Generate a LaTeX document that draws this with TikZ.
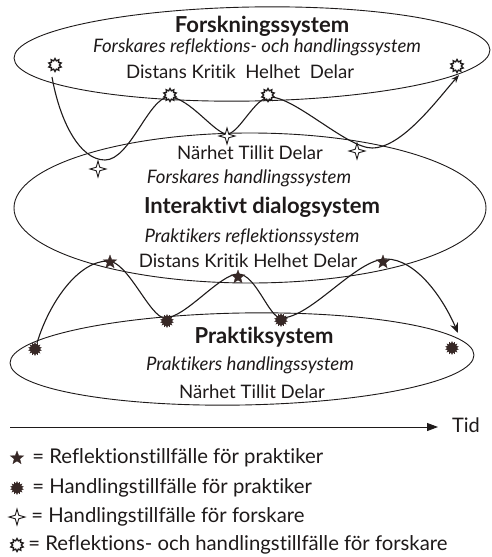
\documentclass[tikz,border=0pt]{standalone}
\usepackage{fontspec}
\setmainfont{Lato}[Ligatures=NoCommon]
\usetikzlibrary{shapes.geometric,arrows.meta}
\definecolor{ink}{RGB}{30,26,26}
\definecolor{symink}{RGB}{55,40,38}
\begin{document}
\begin{tikzpicture}[x=1pt,y=-1pt,line width=0.9pt,draw=ink,text=ink,
  sysell/.style={draw=ink,ellipse,inner sep=0pt,line width=0.9pt},
  txt/.style={inner sep=0pt,font=\fontsize{18.6}{20}\selectfont},
  itxt/.style={inner sep=0pt,font=\fontsize{18.6}{20}\selectfont\itshape},
  btxt/.style={inner sep=0pt,font=\fontsize{22}{24}\selectfont\bfseries},
  legtxt/.style={inner sep=0pt,anchor=west,font=\fontsize{20.3}{22}\selectfont},
  rstar/.style={star,star points=5,star point ratio=2.4,fill=symink,draw=symink,line width=0.3pt,minimum size=14pt,inner sep=0pt},
  pact/.style={star,star points=14,star point ratio=1.45,fill=symink,draw=symink,line width=0.3pt,minimum size=13pt,inner sep=0pt},
  fact/.style={star,star points=4,star point ratio=3.2,fill=white,draw=ink,line width=0.9pt,minimum size=16pt,inner sep=0pt},
  fref/.style={star,star points=10,star point ratio=1.5,fill=white,draw=ink,line width=1.3pt,minimum size=13pt,inner sep=0pt},
  curve/.style={line width=1.1pt,draw=ink}]
\useasboundingbox (0,0) rectangle (491,557);
\fill[white] (0,0) rectangle (491,557);
% ellipses
\node[sysell,minimum width=476pt,minimum height=94pt,rotate=1] (fs) at (252,54) {};
\node[sysell,minimum width=472pt,minimum height=150pt] (ids) at (250,208) {};
\node[sysell,minimum width=464pt,minimum height=92pt,rotate=1] (ps) at (242,359) {};
% texts top
\node[btxt] (fs1) at (262,26) {Forskningssystem};
\node[itxt] (fs2) at (257,47) {Forskares reflektions- och handlingssystem};
\node[txt] (fs3) at (240,72) {Distans Kritik\ \ Helhet\ \ Delar};
% texts middle
\node[txt] (id1) at (250,153) {Närhet Tillit Delar};
\node[itxt] (id2) at (249,178) {Forskares handlingssystem};
\node[btxt] (id3) at (262,207) {Interaktivt dialogsystem};
\node[itxt] (id4) at (252,237) {Praktikers reflektionssystem};
\node[txt] (id5) at (248,261) {Distans Kritik Helhet Delar};
% texts bottom
\node[btxt] (ps1) at (264,337) {Praktiksystem};
\node[itxt] (ps2) at (250,365) {Praktikers handlingssystem};
\node[txt] (ps3) at (252,392) {Närhet Tillit Delar};
% upper curve
\coordinate (u0) at (52,77);
\coordinate (u1) at (105,160);
\coordinate (u2) at (169,97);
\coordinate (u3) at (227,134);
\coordinate (u4) at (270,97);
\coordinate (u5) at (372,148);
\coordinate (u6) at (459,75);
\draw[curve,-{Stealth[length=8pt,width=6pt]}] (u0) .. controls +(8,45) and +(-25,0) .. (u1)
  .. controls +(25,0) and +(-20,0) .. (u2)
  .. controls +(20,0) and +(-12,0) .. (u3)
  .. controls +(12,0) and +(-15,0) .. (u4)
  .. controls +(25,0) and +(-25,0) .. (u5)
  .. controls +(30,0) and +(-22,25) .. (u6);
% lower curve
\coordinate (l0) at (37,343);
\coordinate (l1) at (108,261);
\coordinate (l2) at (165,318);
\coordinate (l3) at (238,274);
\coordinate (l4) at (281,318);
\coordinate (l5) at (386,259);
\coordinate (l6) at (458,333);
\draw[curve,-{Stealth[length=10pt,width=8pt]}] (l0) .. controls +(12,-40) and +(-30,0) .. (l1)
  .. controls +(20,0) and +(-15,0) .. (l2)
  .. controls +(20,0) and +(-18,0) .. (l3)
  .. controls +(18,0) and +(-12,0) .. (l4)
  .. controls +(30,0) and +(-30,0) .. (l5)
  .. controls +(30,0) and +(-15,-35) .. (l6);
% symbols on upper curve
\node[fref] (r1) at (55,65) {};
\node[fref] (r2) at (170,95) {};
\node[fref] (r3) at (268,95) {};
\node[fref] (r4) at (457,66) {};
\node[fact] (h1) at (98,169) {};
\node[fact] (h2) at (227,136) {};
\node[fact] (h3) at (357,151) {};
% symbols on lower curve
\node[rstar] (s1) at (110,262) {};
\node[rstar] (s2) at (238,277) {};
\node[rstar] (s3) at (383,262) {};
\node[pact] (a1) at (35,349) {};
\node[pact] (a2) at (167,321) {};
\node[pact] (a3) at (281,320) {};
\node[pact] (a4) at (452,348) {};
% time axis
\coordinate (t0) at (10,427);
\coordinate (t1) at (438,427);
\node[txt,font=\fontsize{20}{22}\selectfont] (tid) at (466,425) {Tid};
\draw[line width=0.9pt,-{Triangle[length=11pt,width=8pt]}] (t0) -- (t1);
% legend
\node[rstar] (k1) at (17,458) {};
\node[legtxt] (k1t) at (32,458) {= Reflektionstillfälle för praktiker};
\node[pact] (k2) at (17,488) {};
\node[legtxt] (k2t) at (32,488) {= Handlingstillfälle för praktiker};
\node[fact] (k3) at (17,517) {};
\node[legtxt] (k3t) at (31,517) {= Handlingstillfälle för forskare};
\node[fref] (k4) at (17,545) {};
\node[legtxt] (k4t) at (28,545) {= Reflektions- och handlingstillfälle för forskare};
\end{tikzpicture}
\end{document}
